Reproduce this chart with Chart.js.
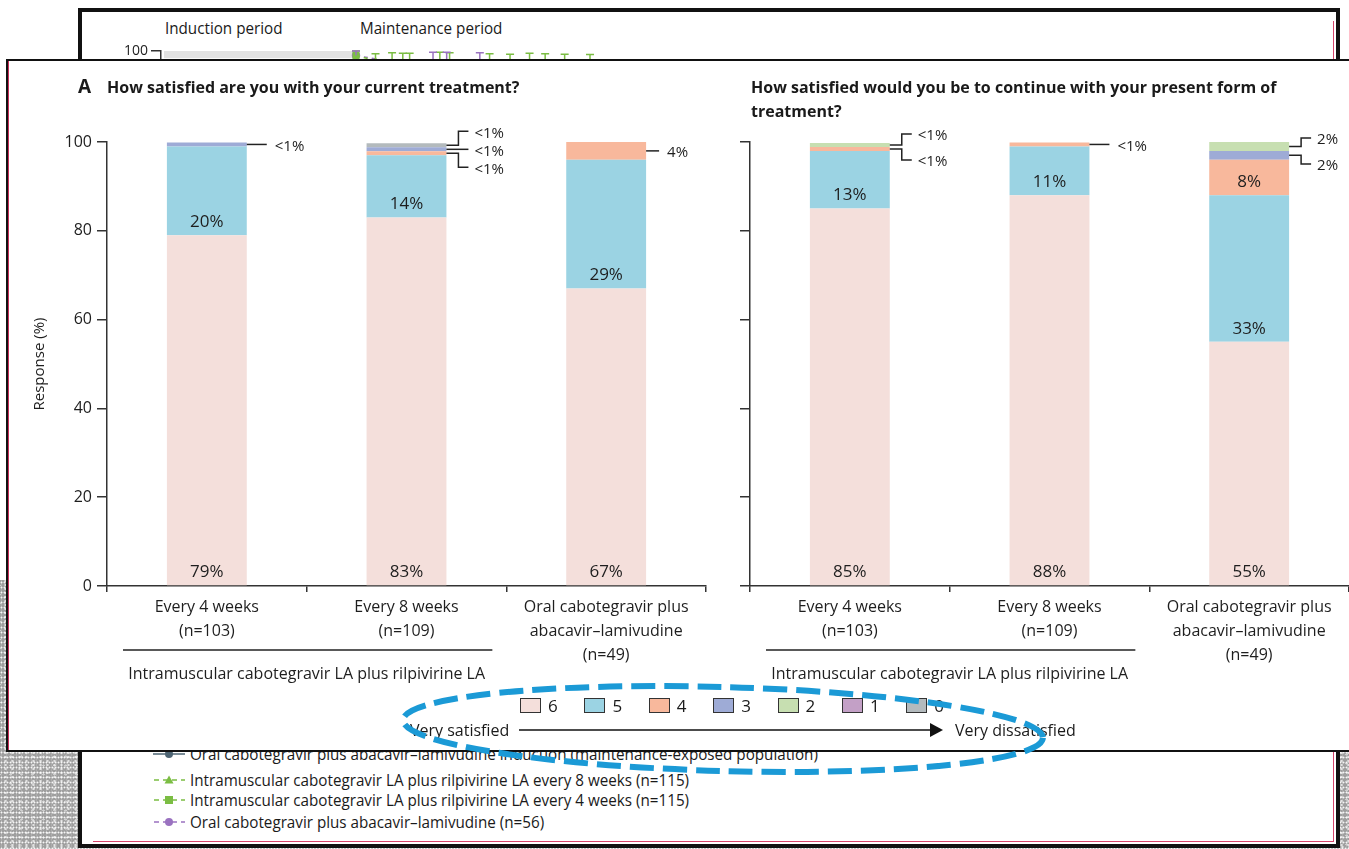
<!DOCTYPE html>
<html>
<head>
<meta charset="utf-8">
<script src="https://cdn.jsdelivr.net/npm/chart.js@4.4.1/dist/chart.umd.min.js"></script>
<style>
  html, body { margin: 0; padding: 0; background: #fff; }
  body { width: 1349px; height: 849px; position: relative; overflow: hidden; font-family: 'Open Sans', sans-serif; color: #1a1a1a; }
  .abs { position: absolute; }
  .grain {
    position: absolute;
    background-color: #9f9f9f;
    background-image:
      radial-gradient(circle, rgba(255,255,255,.9) 0 0.7px, transparent 1.2px),
      radial-gradient(circle, rgba(240,240,240,.8) 0 0.9px, transparent 1.4px),
      radial-gradient(ellipse, rgba(225,225,225,.7) 0 1px, transparent 1.6px),
      linear-gradient(90deg, rgba(255,255,255,.15) 0 1px, transparent 1px);
    background-size: 3px 5px, 7px 4px, 11px 9px, 5px 13px;
    background-position: 0 0, 2px 3px, 5px 1px, 1px 6px;
  }
  #back { left: 78px; top: 8px; width: 1254px; height: 832px; border: 4px solid #111; background: #fff; }
  #backPink { right: 2px; bottom: 2px; width: 1240px; height: 820px; border-right: 1.5px solid #d4446a; border-bottom: 1.5px solid #d4446a; }
  .cond { white-space: nowrap; transform-origin: left center; transform: scaleX(0.95); font-size: 16px; line-height: 20px; }
  #panel { left: 6px; top: 59px; width: 1360px; height: 689px; border: 2px solid #111; background: #fff; }
  #panelPink { left: 0; top: 0; width: 0; height: 689px; border-left: 1.5px solid #c8305a; }
  .title { font-weight: 700; font-size: 16px; line-height: 24px; white-space: nowrap; }
  #legend { left: 520px; top: 696px; display: flex; }
  .item { width: 64.4px; display: flex; align-items: center; font-size: 17px; height: 18px; }
  .swatch { width: 19px; height: 13px; border: 1.2px solid #333; margin-right: 7px; }
  .scale { font-size: 16px; line-height: 20px; white-space: nowrap; }
  .key { margin-right: 5px; display: block; }
</style>
</head>
<body>
<div class="grain" style="left:0;top:580px;width:80px;height:269px"></div>
<div class="grain" style="left:1336px;top:740px;width:13px;height:109px"></div>
<div class="grain" style="left:0;top:846px;width:1349px;height:3px"></div>

<div id="back" class="abs"><div id="backPink" class="abs"></div></div>
<div class="abs cond" style="left:165px;top:18px">Induction period</div>
<div class="abs cond" style="left:360px;top:18px">Maintenance period</div>
<canvas id="bgChart" class="abs" width="1250" height="500" style="left:82px;top:12px"></canvas>
<div id="bgLegend" class="abs" style="left:153px;top:744px"></div>

<div id="panel" class="abs"><div id="panelPink" class="abs"></div></div>
<canvas id="leftChart" class="abs" width="720" height="690" style="left:8px;top:60px"></canvas>
<canvas id="rightChart" class="abs" width="619" height="690" style="left:730px;top:60px"></canvas>

<div class="abs" style="left:78px;top:73px;font-weight:700;font-size:19px;line-height:26px">A</div>
<div class="abs title" style="left:107px;top:75px">How satisfied are you with your current treatment?</div>
<div class="abs title" style="left:751px;top:75px">How satisfied would you be to continue with your present form of<br>treatment?</div>

<div id="legend" class="abs"></div>
<div class="abs scale" style="left:410px;top:720px">Very satisfied</div>
<div class="abs scale" style="left:955px;top:720px">Very dissatisfied</div>
<svg class="abs" width="1349" height="849" style="left:0;top:0;pointer-events:none">
  <line x1="519" y1="730" x2="932" y2="730" stroke="#111" stroke-width="1.5"/>
  <polygon points="930,723 943,730 930,737" fill="#111"/>
  <ellipse cx="723" cy="729" rx="320" ry="42" transform="rotate(1.6 723 729)" fill="none"
           stroke="#1b9ad6" stroke-width="6" stroke-dasharray="24 9"/>
</svg>

<script>
// response categories
const categories = [
  ['Every 4 weeks', '(n=103)'],
  ['Every 8 weeks', '(n=109)'],
  ['Oral cabotegravir plus', 'abacavir–lamivudine', '(n=49)'],
];
const groupLabel = 'Intramuscular cabotegravir LA plus rilpivirine LA';
const scoreNames = ['6', '5', '4', '3', '2', '1', '0'];
const scoreColors = ['#f4dfdb', '#9bd3e3', '#f8b89c', '#9eabd6', '#c7dfb1', '#c3a0c6', '#b3babd'];
const yTicks = [0, 20, 40, 60, 80, 100];

// How satisfied are you with your current treatment?
const current6 = [79, 83, 67];
const current5 = [20, 14, 29];
const current4 = [0, 0.9, 4];
const current3 = [0.9, 0.9, 0];
const current2 = [0, 0, 0];
const current1 = [0, 0, 0];
const current0 = [0, 0.9, 0];

// How satisfied would you be to continue with your present form of treatment?
const continue6 = [85, 88, 55];
const continue5 = [13, 11, 33];
const continue4 = [0.9, 0.9, 8];
const continue3 = [0, 0, 2];
const continue2 = [0.9, 0, 2];
const continue1 = [0, 0, 0];
const continue0 = [0, 0, 0];

// figure behind: weeks, point estimates and upper CI per arm (only the top shows)
const bgInduction = [-20, 0];
const bgInductionBand = [98.4, 100];
const bgWeeksQ8 = [2, 5.5, 9.6, 15.8, 19.4, 24];
const bgValuesQ8 = [97.5, 96, 97, 96.5, 95.5, 96];
const bgUpperQ8 = [99.4, 99.5, 99.6, 99.3, 99.4, 99.2];
const bgWeeksQ4 = [0, 3.7, 4.8, 8.6, 13.7, 17.8, 21.4];
const bgValuesQ4 = [99, 97, 96.5, 97, 96, 96.5, 95.5];
const bgUpperQ4 = [100, 99.6, 99.5, 99.7, 99.4, 99.5, 99.3];
const bgWeeksOral = [0, 7.9, 9.3, 12.7];
const bgValuesOral = [99, 96, 96.5, 96];
const bgUpperOral = [100, 99.7, 99.7, 99.6];
const bgLegendRows = [
  { text: 'Oral cabotegravir plus abacavir–lamivudine induction (maintenance-exposed population)', color: '#4d6473', marker: 'circle', dash: false },
  { text: 'Intramuscular cabotegravir LA plus rilpivirine LA every 8 weeks (n=115)', color: '#7bbd43', marker: 'triangle', dash: true },
  { text: 'Intramuscular cabotegravir LA plus rilpivirine LA every 4 weeks (n=115)', color: '#7bbd43', marker: 'square', dash: true },
  { text: 'Oral cabotegravir plus abacavir–lamivudine (n=56)', color: '#9a72c0', marker: 'circle', dash: true },
];

const axisColor = '#333';
const textColor = '#1e1e1e';
Chart.defaults.font.family = "'Open Sans', sans-serif";
Chart.defaults.color = textColor;

const barLabels = {
  id: 'barLabels',
  afterDatasetsDraw(chart) {
    const ctx = chart.ctx;
    ctx.save();
    ctx.fillStyle = textColor;
    ctx.strokeStyle = '#222';
    ctx.lineWidth = 1.5;
    ctx.textBaseline = 'middle';
    chart.data.labels.forEach((_, i) => {
      const outside = [];
      chart.data.datasets.forEach((ds, d) => {
        const v = ds.data[i];
        if (!v) return;
        const bar = chart.getDatasetMeta(d).data[i];
        const text = v < 1 ? '<1%' : v + '%';
        if (v >= 5) {
          ctx.font = "17px 'Open Sans', sans-serif";
          ctx.textAlign = 'center';
          ctx.fillText(text, bar.x, bar.base - 13);
        } else {
          outside.push({ bar, text, y: (bar.y + bar.base) / 2 });
        }
      });
      if (!outside.length) return;
      outside.reverse();
      const m = outside.length;
      const gap = m > 2 ? 18 : 26;
      const mid = outside.reduce((s, o) => s + o.y, 0) / m;
      ctx.font = "15px 'Open Sans', sans-serif";
      ctx.textAlign = 'left';
      outside.forEach((o, k) => {
        const x0 = o.bar.x + o.bar.width / 2;
        const ty = m === 1 ? o.y : mid + (k - (m - 1) / 2) * gap;
        // short tick for a whole-number share, longer one for "<1%"
        const reach = m === 1 ? (o.text[0] === '<' ? 20 : 13) : 22;
        ctx.beginPath();
        ctx.moveTo(x0, o.y);
        if (Math.abs(ty - o.y) < 2) {
          ctx.lineTo(x0 + reach, o.y);
        } else {
          ctx.lineTo(x0 + 12, o.y);
          ctx.lineTo(x0 + 12, ty);
          ctx.lineTo(x0 + 22, ty);
        }
        ctx.stroke();
        ctx.fillText(o.text, x0 + reach + (m === 1 ? 8 : 6), (m === 1 ? o.y : ty) + 2);
      });
    });
    ctx.restore();
  },
};

// underline + label spanning the two injectable arms
const groupBracket = {
  id: 'groupBracket',
  afterDraw(chart) {
    const ctx = chart.ctx;
    const x = chart.scales.x;
    const w = x.getPixelForValue(1) - x.getPixelForValue(0);
    const x1 = x.getPixelForValue(0) - 0.42 * w;
    const x2 = x.getPixelForValue(1) + 0.43 * w;
    const y = chart.chartArea.bottom + 64;
    ctx.save();
    ctx.strokeStyle = '#222';
    ctx.lineWidth = 1.5;
    ctx.beginPath();
    ctx.moveTo(x1, y);
    ctx.lineTo(x2, y);
    ctx.stroke();
    ctx.fillStyle = textColor;
    ctx.font = "16px 'Open Sans', sans-serif";
    ctx.textAlign = 'center';
    ctx.textBaseline = 'middle';
    ctx.fillText(groupLabel, (x.getPixelForValue(0) + x.getPixelForValue(1)) / 2, y + 24);
    ctx.restore();
  },
};

function makeChart(id, series, withLabels, axisWidth, padRight) {
  return new Chart(document.getElementById(id), {
    type: 'bar',
    data: {
      labels: categories,
      datasets: series.map((values, i) => ({
        label: scoreNames[i],
        data: values,
        backgroundColor: scoreColors[i],
        borderWidth: 0,
        categoryPercentage: 1,
        barPercentage: 0.4,
      })),
    },
    options: {
      responsive: false,
      animation: false,
      events: [],
      layout: { padding: { top: 82, right: padRight, left: 0, bottom: 0 } },
      plugins: { legend: { display: false }, tooltip: { enabled: false } },
      scales: {
        x: {
          stacked: true,
          grid: { offset: true, drawOnChartArea: false, tickLength: 6, color: axisColor, lineWidth: 1.5 },
          border: { color: axisColor, width: 1.5 },
          ticks: { font: { size: 16, lineHeight: 1.5 }, padding: 3, maxRotation: 0, autoSkip: false },
          afterFit: (s) => { s.height = 164; },
        },
        y: {
          stacked: true,
          min: 0,
          max: 100,
          afterBuildTicks: (s) => { s.ticks = yTicks.map((v) => ({ value: v })); },
          grid: { drawOnChartArea: false, tickLength: 10, color: axisColor, lineWidth: 1.5 },
          border: { color: axisColor, width: 1.5 },
          ticks: { display: withLabels, font: { size: 16 }, padding: 5 },
          title: { display: withLabels, text: 'Response (%)', font: { size: 15 }, padding: { top: 23 } },
          afterFit: (s) => { s.width = axisWidth; },
        },
      },
    },
    plugins: [barLabels, groupBracket],
  });
}

makeChart('leftChart', [current6, current5, current4, current3, current2, current1, current0], true, 99, 22);
makeChart('rightChart', [continue6, continue5, continue4, continue3, continue2, continue1, continue0], false, 20, 0);

// legend for the score scale
const legend = document.getElementById('legend');
scoreNames.forEach((name, i) => {
  const item = document.createElement('div');
  item.className = 'item';
  item.innerHTML = `<span class="swatch" style="background:${scoreColors[i]}"></span><span>${name}</span>`;
  legend.appendChild(item);
});

// figure underneath: induction band and error-bar tops
const inductionBand = {
  id: 'inductionBand',
  beforeDatasetsDraw(chart) {
    const { x, y } = chart.scales;
    const ctx = chart.ctx;
    const left = x.getPixelForValue(bgInduction[0]) + 3;
    const right = x.getPixelForValue(bgInduction[1]);
    const top = y.getPixelForValue(bgInductionBand[1]);
    const bottom = y.getPixelForValue(bgInductionBand[0]);
    ctx.save();
    ctx.fillStyle = '#e2e2e2';
    ctx.fillRect(left, top, right - left, bottom - top);
    ctx.restore();
  },
};

const errorCaps = {
  id: 'errorCaps',
  afterDatasetsDraw(chart) {
    const ctx = chart.ctx;
    const y = chart.scales.y;
    chart.data.datasets.forEach((ds, d) => {
      const meta = chart.getDatasetMeta(d);
      ctx.save();
      ctx.strokeStyle = ds.borderColor;
      ctx.lineWidth = 1.5;
      meta.data.forEach((pt, j) => {
        const top = y.getPixelForValue(ds.upper[j]);
        ctx.beginPath();
        ctx.moveTo(pt.x - 4, top);
        ctx.lineTo(pt.x + 4, top);
        ctx.moveTo(pt.x, top);
        ctx.lineTo(pt.x, pt.y);
        ctx.stroke();
      });
      ctx.restore();
    });
  },
};

const bgSeries = (weeks, values) => weeks.map((w, j) => ({ x: w, y: values[j] }));
new Chart(document.getElementById('bgChart'), {
  type: 'line',
  data: {
    datasets: [
      { data: bgSeries(bgWeeksQ8, bgValuesQ8), upper: bgUpperQ8, borderColor: '#7bbd43', backgroundColor: '#7bbd43', borderDash: [4, 4], borderWidth: 1.5, pointStyle: 'triangle', pointRadius: 4 },
      { data: bgSeries(bgWeeksQ4, bgValuesQ4), upper: bgUpperQ4, borderColor: '#7bbd43', backgroundColor: '#7bbd43', borderDash: [4, 4], borderWidth: 1.5, pointStyle: 'rect', pointRadius: 4 },
      { data: bgSeries(bgWeeksOral, bgValuesOral), upper: bgUpperOral, borderColor: '#9a72c0', backgroundColor: '#9a72c0', borderDash: [4, 4], borderWidth: 1.5, pointStyle: 'circle', pointRadius: 3.5 },
    ],
  },
  options: {
    responsive: false,
    animation: false,
    events: [],
    layout: { padding: { top: 39, right: 40, left: 0, bottom: 0 } },
    plugins: { legend: { display: false }, tooltip: { enabled: false } },
    scales: {
      x: { type: 'linear', min: -20, max: 96, offset: false, display: false },
      y: {
        min: 0, max: 100,
        afterBuildTicks: (s) => { s.ticks = [{ value: 100 }]; },
        grid: { drawOnChartArea: false, tickLength: 10, color: axisColor, lineWidth: 1.5 },
        border: { color: axisColor, width: 1.5 },
        ticks: { font: { size: 14 }, padding: 3 },
        afterFit: (s) => { s.width = 79; },
      },
    },
  },
  plugins: [inductionBand, errorCaps],
});

// legend of the figure underneath
const markerShapes = {
  circle: (c) => `<circle cx="16" cy="7" r="4" fill="${c}"/>`,
  triangle: (c) => `<polygon points="16,2.5 20.5,10.5 11.5,10.5" fill="${c}"/>`,
  square: (c) => `<rect x="12" y="3" width="8" height="8" fill="${c}"/>`,
};
const bgLegend = document.getElementById('bgLegend');
const bgRowTops = [0, 26, 46, 68];
bgLegendRows.forEach((row, i) => {
  const el = document.createElement('div');
  el.className = 'abs';
  el.style.cssText = `left:0;top:${bgRowTops[i]}px;white-space:nowrap;display:flex;align-items:center;height:20px`;
  const dash = row.dash ? ' stroke-dasharray="5 4" stroke-dashoffset="-1"' : '';
  const key = `<svg class="key" width="32" height="14"><line x1="0" y1="7" x2="32" y2="7" stroke="${row.color}" stroke-width="1.5"${dash}/>` +
    markerShapes[row.marker](row.color) + '</svg>';
  el.innerHTML = key + `<span class="cond" style="display:inline-block;transform:scaleX(0.95)">${row.text}</span>`;
  bgLegend.appendChild(el);
});
</script>
</body>
</html>
